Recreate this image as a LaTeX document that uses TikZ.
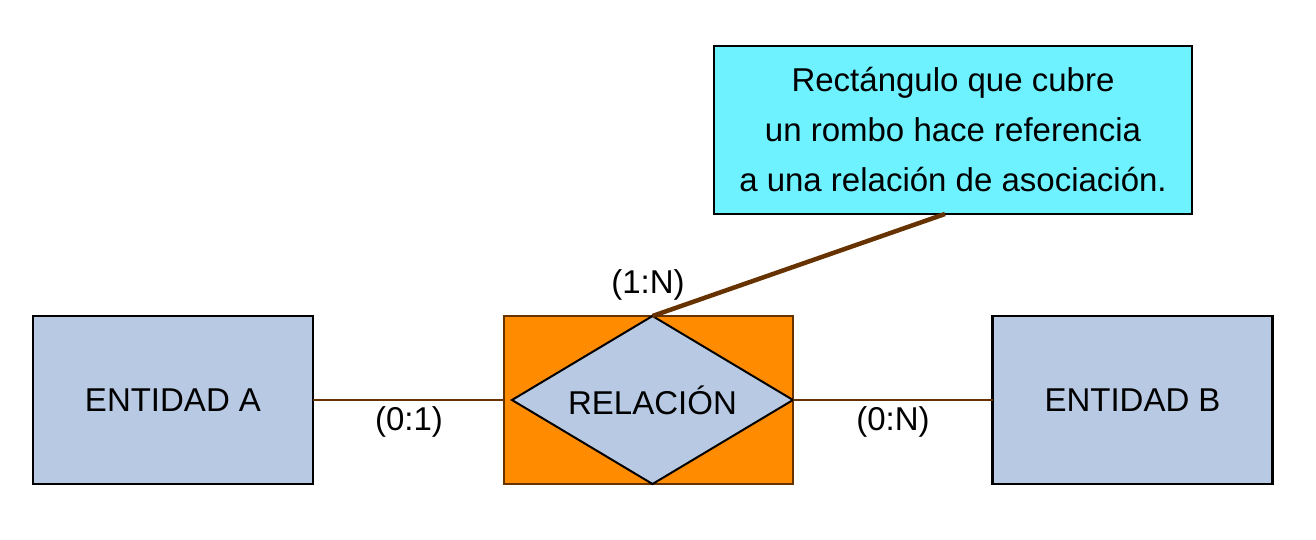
\documentclass[tikz,border=0pt]{standalone}
\usepackage{fontspec}
\setmainfont{Liberation Sans}
\usetikzlibrary{shapes.geometric}
\definecolor{entfill}{HTML}{B8C9E3}
\definecolor{relorange}{HTML}{FF8C00}
\definecolor{brownline}{HTML}{663300}
\definecolor{notefill}{HTML}{6EF2FF}
\begin{document}
\begin{tikzpicture}[x=1pt,y=-1pt,
  font=\fontsize{33}{50}\selectfont,
  ent/.style={draw=black, line width=2.5pt, fill=entfill, minimum width=280pt, minimum height=168pt, inner sep=0pt, outer sep=0pt},
  relbox/.style={draw=brownline, line width=2pt, fill=relorange, minimum width=289pt, minimum height=168pt, inner sep=0pt, outer sep=0pt},
  relshape/.style={diamond, aspect=1.67, draw=black, line width=2pt, fill=entfill, minimum width=281pt, minimum height=168pt, inner sep=0pt, outer sep=0pt},
  notebox/.style={draw=black, line width=2pt, fill=notefill, minimum width=478pt, minimum height=168pt, align=center, inner sep=0pt, outer sep=0pt},
  thinlink/.style={draw=brownline, line width=2.5pt},
  thicklink/.style={draw=brownline, line width=4.5pt},
  card/.style={inner sep=0pt}
]
\useasboundingbox (0,0) rectangle (1316,540);
\node[ent] (a) at (173,400) {ENTIDAD A};
\node[ent] (b) at (1132.5,400) {ENTIDAD B};
\node[relbox] (rel) at (648,400) {};
\node[relshape] (dia) at (652.5,400) {RELACIÓN};
\node[notebox] (note) at (953,130) {Rectángulo que cubre\\un rombo hace referencia\\a una relación de asociación.};
\draw[thinlink] (a.east) -- (rel.west);
\draw[thinlink] (dia.east) -- (b.west);
\draw[thicklink] (dia.north) -- ([xshift=-8pt]note.south);
\node[card] (c01) at (409,422) {(0:1)};
\node[card] (c0n) at (893,422) {(0:N)};
\node[card] (c1n) at (648,285) {(1:N)};
\end{tikzpicture}
\end{document}
